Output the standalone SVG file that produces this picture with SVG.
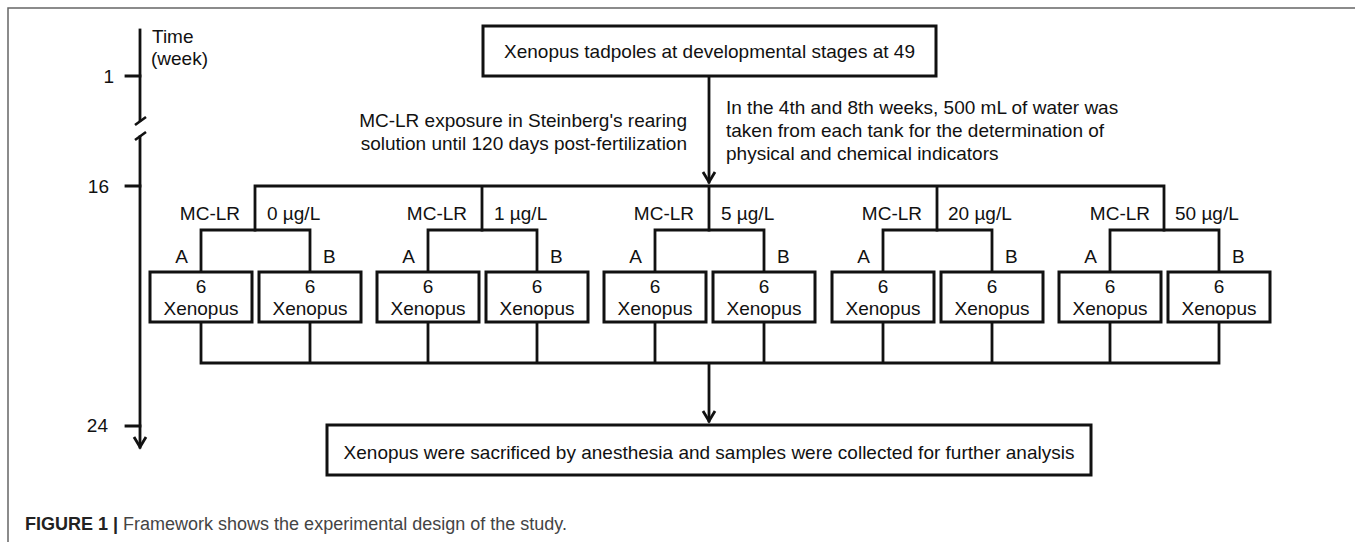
<svg xmlns="http://www.w3.org/2000/svg" width="1355" height="542" viewBox="0 0 1355 542">
<defs>
<style>
text{font-family:"Liberation Sans",Arial,sans-serif;font-size:19px;fill:#111}
.c{text-anchor:middle}
.e{text-anchor:end}
.box{fill:#fff;stroke:#111;stroke-width:3}
.ln{fill:none;stroke:#111;stroke-width:2.8;stroke-linecap:square;stroke-linejoin:miter}
.cap{font-size:18px;fill:#444}
</style>
<marker id="arr" viewBox="-13 -9 16 18" markerWidth="16" markerHeight="18" refX="0" refY="0" orient="auto" markerUnits="userSpaceOnUse">
<path d="M-10,-6 L0,0 L-10,6" fill="none" stroke="#111" stroke-width="2.8" stroke-linejoin="miter"/>
</marker>
</defs>
<rect width="1355" height="542" fill="#fff"/>
<path d="M1355,8 H8 V542" fill="none" stroke="#666" stroke-width="1.5"/>

<g id="timeline">
<path class="ln" d="M140,30 V120"/>
<path class="ln" d="M140,137 V447" marker-end="url(#arr)"/>
<path d="M135,125 L146,117 M135,140 L146,132" stroke="#111" stroke-width="2.6" fill="none"/>
<path class="ln" d="M126,76 H140 M126,186 H140 M126,426 H140"/>
<text x="152" y="43">Time</text>
<text x="151" y="65">(week)</text>
<text class="e" x="114" y="83">1</text>
<text class="e" x="109" y="193">16</text>
<text class="e" x="108" y="432">24</text>
</g>

<g id="connectors">
<path class="ln" d="M709,77 V182" marker-end="url(#arr)"/>
<path class="ln" d="M255,230 V186 H1164 V230 M482,186 V230 M709,186 V230 M937,186 V230"/>
<path class="ln" d="M201,272 V230 H310 V272 M428,272 V230 H537 V272 M655,272 V230 H764 V272 M883,272 V230 H992 V272 M1110,272 V230 H1219 V272"/>
<path class="ln" d="M201,322 V363 H1219 V322 M310,322 V363 M428,322 V363 M537,322 V363 M655,322 V363 M764,322 V363 M883,322 V363 M992,322 V363 M1110,322 V363"/>
<path class="ln" d="M709,364 V421" marker-end="url(#arr)"/>
</g>

<g id="top">
<rect class="box" x="483" y="26" width="453" height="50"/>
<text class="c" x="709.5" y="58">Xenopus tadpoles at developmental stages at 49</text>
</g>

<g id="notes">
<text class="e" x="687" y="127">MC-LR exposure in Steinberg's rearing</text>
<text class="e" x="687" y="150">solution until 120 days post-fertilization</text>
<text x="726" y="114">In the 4th and 8th weeks, 500 mL of water was</text>
<text x="726" y="137">taken from each tank for the determination of</text>
<text x="726" y="160">physical and chemical indicators</text>
</g>

<g id="group-0">
<text class="e" x="240" y="220">MC-LR</text><text x="267" y="220">0 µg/L</text>
<text class="e" x="188" y="263">A</text><text x="323" y="263">B</text>
</g>
<g id="group-1">
<text class="e" x="467" y="220">MC-LR</text><text x="494" y="220">1 µg/L</text>
<text class="e" x="415" y="263">A</text><text x="550" y="263">B</text>
</g>
<g id="group-5">
<text class="e" x="694" y="220">MC-LR</text><text x="721" y="220">5 µg/L</text>
<text class="e" x="642" y="263">A</text><text x="777" y="263">B</text>
</g>
<g id="group-20">
<text class="e" x="922" y="220">MC-LR</text><text x="948" y="220">20 µg/L</text>
<text class="e" x="870" y="263">A</text><text x="1005" y="263">B</text>
</g>
<g id="group-50">
<text class="e" x="1150" y="220">MC-LR</text><text x="1175" y="220">50 µg/L</text>
<text class="e" x="1097" y="263">A</text><text x="1232" y="263">B</text>
</g>

<g id="box-0A"><rect class="box" x="150" y="272" width="102" height="50"/><text class="c" x="201" y="293">6</text><text class="c" x="201" y="315">Xenopus</text></g>
<g id="box-0B"><rect class="box" x="259" y="272" width="102" height="50"/><text class="c" x="310" y="293">6</text><text class="c" x="310" y="315">Xenopus</text></g>
<g id="box-1A"><rect class="box" x="377" y="272" width="102" height="50"/><text class="c" x="428" y="293">6</text><text class="c" x="428" y="315">Xenopus</text></g>
<g id="box-1B"><rect class="box" x="486" y="272" width="102" height="50"/><text class="c" x="537" y="293">6</text><text class="c" x="537" y="315">Xenopus</text></g>
<g id="box-5A"><rect class="box" x="604" y="272" width="102" height="50"/><text class="c" x="655" y="293">6</text><text class="c" x="655" y="315">Xenopus</text></g>
<g id="box-5B"><rect class="box" x="713" y="272" width="102" height="50"/><text class="c" x="764" y="293">6</text><text class="c" x="764" y="315">Xenopus</text></g>
<g id="box-20A"><rect class="box" x="832" y="272" width="102" height="50"/><text class="c" x="883" y="293">6</text><text class="c" x="883" y="315">Xenopus</text></g>
<g id="box-20B"><rect class="box" x="941" y="272" width="102" height="50"/><text class="c" x="992" y="293">6</text><text class="c" x="992" y="315">Xenopus</text></g>
<g id="box-50A"><rect class="box" x="1059" y="272" width="102" height="50"/><text class="c" x="1110" y="293">6</text><text class="c" x="1110" y="315">Xenopus</text></g>
<g id="box-50B"><rect class="box" x="1168" y="272" width="102" height="50"/><text class="c" x="1219" y="293">6</text><text class="c" x="1219" y="315">Xenopus</text></g>

<g id="bottom">
<rect class="box" x="327" y="425" width="764" height="50"/>
<text class="c" x="709" y="459">Xenopus were sacrificed by anesthesia and samples were collected for further analysis</text>
</g>

<text class="cap" x="25" y="530"><tspan font-weight="bold" fill="#222">FIGURE 1 |</tspan> Framework shows the experimental design of the study.</text>
</svg>
